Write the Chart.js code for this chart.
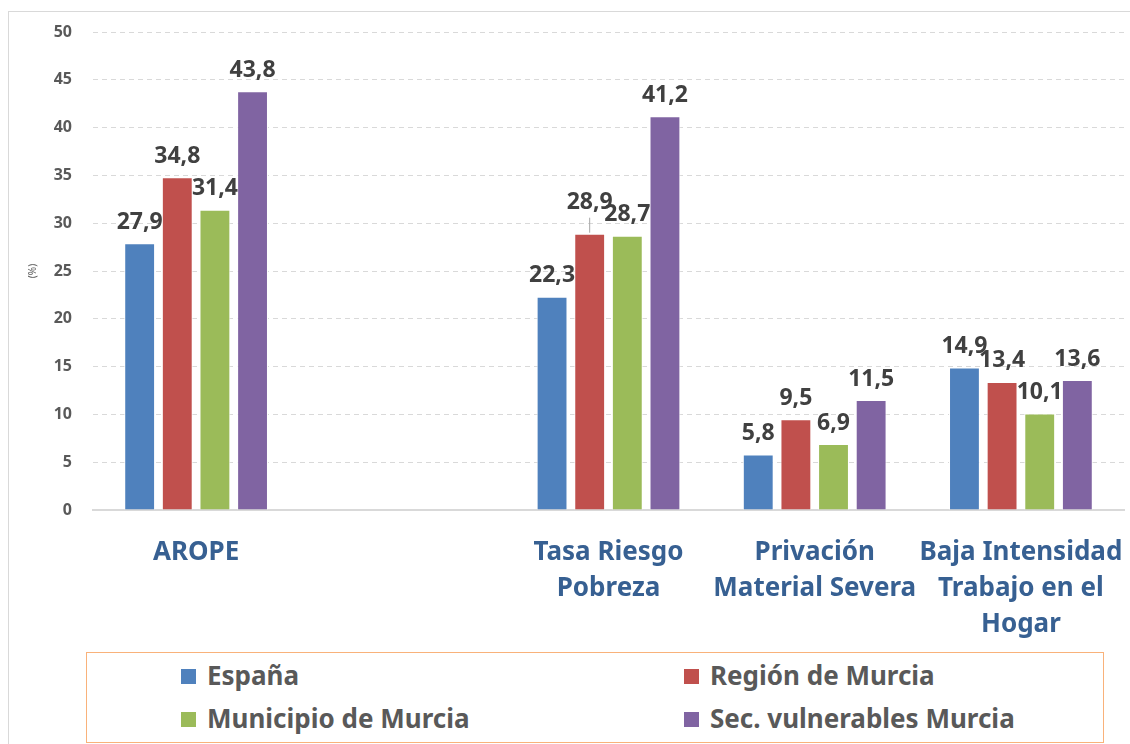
<!DOCTYPE html>
<html>
<head>
<meta charset="utf-8">
<script src="https://cdn.jsdelivr.net/npm/chart.js@4"></script>
<style>
  body { margin: 0; background: #fff; font-family: "Noto Sans", sans-serif; }
  #wrap { position: relative; width: 1130px; height: 744px; overflow: hidden; }
  #frame { position: absolute; left: 8px; top: 11px; width: 1200px; height: 800px; border: 1px solid #D9D9D9; }
  #chart { position: absolute; left: 0; top: 0; }
  #legend {
    position: absolute; left: 86px; top: 652px; width: 1016px; height: 89px;
    border: 1px solid #F9B27A; background: #fff;
  }
  .item { position: absolute; font-weight: bold; font-size: 26px; color: #595959; line-height: 30px; }
  .item span.box { display: inline-block; width: 15px; height: 15px; margin-right: 11px; vertical-align: 1px; }
</style>
</head>
<body>
<div id="wrap">
  <div id="frame"></div>
  <canvas id="chart" width="1130" height="744"></canvas>
  <div id="legend"></div>
</div>
<script>
// categories (the empty one is the gap between AROPE and Tasa Riesgo Pobreza)
const categories = [
  ['AROPE'],
  [''],
  ['Tasa Riesgo', 'Pobreza'],
  ['Privación', 'Material Severa'],
  ['Baja Intensidad', 'Trabajo en el', 'Hogar']
];

const seriesNames = ['España', 'Región de Murcia', 'Municipio de Murcia', 'Sec. vulnerables Murcia'];
const seriesColors = ['#4F81BD', '#C0504D', '#9BBB59', '#8064A2'];

const espana     = [27.9, null, 22.3, 5.8, 14.9];
const region     = [34.8, null, 28.9, 9.5, 13.4];
const municipio  = [31.4, null, 28.7, 6.9, 10.1];
const vulnerable = [43.8, null, 41.2, 11.5, 13.6];

const yTicks = [0, 5, 10, 15, 20, 25, 30, 35, 40, 45, 50];

const seriesValues = [espana, region, municipio, vulnerable];

// value labels above bars, comma decimal
const valueLabels = {
  id: 'valueLabels',
  afterDatasetsDraw(chart) {
    const ctx = chart.ctx;
    ctx.save();
    ctx.font = 'bold 23px "Noto Sans"';
    ctx.fillStyle = '#404040';
    ctx.textAlign = 'center';
    ctx.textBaseline = 'middle';
    chart.data.datasets.forEach((ds, i) => {
      const meta = chart.getDatasetMeta(i);
      meta.data.forEach((bar, j) => {
        const v = ds.data[j];
        if (v == null) return;
        let y = bar.y - 21;
        // 28,9 label lifted with a leader line, as in the original
        if (i === 1 && j === 2) {
          ctx.strokeStyle = '#A6A6A6';
          ctx.lineWidth = 1;
          ctx.beginPath();
          ctx.moveTo(bar.x, bar.y - 1);
          ctx.lineTo(bar.x, bar.y - 16);
          ctx.stroke();
          y = bar.y - 31;
        }
        ctx.fillText(v.toFixed(1).replace('.', ','), bar.x, y);
      });
    });
    ctx.restore();
  }
};

const chart = new Chart(document.getElementById('chart'), {
  type: 'bar',
  data: {
    labels: categories,
    datasets: seriesNames.map((name, i) => ({
      label: name,
      data: seriesValues[i],
      backgroundColor: seriesColors[i],
      borderColor: '#ffffff',
      borderWidth: 1,
      categoryPercentage: 0.73,
      barPercentage: 0.82
    }))
  },
  options: {
    responsive: false,
    animation: false,
    layout: { padding: { top: 32, right: 6, bottom: 104, left: 0 } },
    plugins: {
      legend: { display: false },
      tooltip: { enabled: false }
    },
    scales: {
      x: {
        grid: { display: false },
        border: { display: true, color: '#D9D9D9', width: 2 },
        ticks: {
          color: '#376092',
          font: { family: 'Noto Sans', size: 26, weight: 'bold', lineHeight: 1.4 },
          padding: 16,
          maxRotation: 0,
          autoSkip: false
        },
        afterFit: s => { s.height = 130; s.paddingLeft = 0; s.paddingRight = 0; }
      },
      y: {
        min: 0,
        max: 50,
        afterBuildTicks: s => { s.ticks = yTicks.map(v => ({ value: v })); },
        grid: { color: '#D9D9D9', lineWidth: 1, drawTicks: false },
        border: { display: false, dash: [5, 4] },
        ticks: {
          color: '#595959',
          font: { family: 'Noto Sans', size: 16, weight: 'bold' },
          padding: 21
        },
        title: {
          display: true,
          text: '(%)',
          color: '#595959',
          font: { family: 'Noto Sans', size: 10 },
          padding: { top: 27, bottom: 0 }
        },
        afterFit: s => { s.width = 93; }
      }
    }
  },
  plugins: [valueLabels]
});

// legend box built from the series arrays
const legend = document.getElementById('legend');
const spots = [[94, 7], [597, 7], [94, 50], [597, 50]];
seriesNames.forEach((name, i) => {
  const el = document.createElement('div');
  el.className = 'item';
  el.style.left = spots[i][0] + 'px';
  el.style.top = spots[i][1] + 'px';
  el.innerHTML = '<span class="box" style="background:' + seriesColors[i] + '"></span>' + name;
  legend.appendChild(el);
});
</script>
</body>
</html>
